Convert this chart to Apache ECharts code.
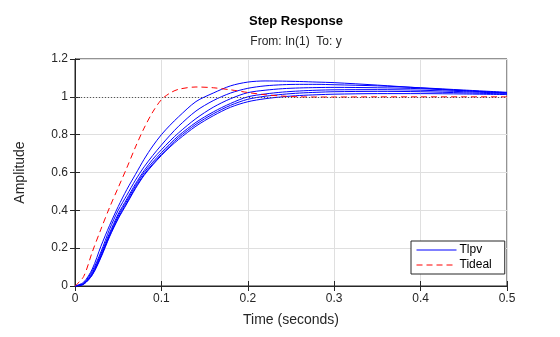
<!DOCTYPE html>
<html>
<head>
<meta charset="utf-8">
<script src="https://cdn.jsdelivr.net/npm/echarts@6/dist/echarts.min.js"></script>
<style>html,body{margin:0;padding:0;background:#fff;}#chart{width:560px;height:337px;}</style>
</head>
<body>
<div id="chart"></div>
<script>
// Time samples (seconds)
const time = [0,0.01,0.02,0.03,0.04,0.05,0.06,0.07,0.08,0.09,0.10,0.11,0.12,0.14,0.16,0.18,0.20,0.22,0.24,0.26,0.28,0.30,0.35,0.40,0.45,0.50];
// Tlpv responses (blue family)
const tlpv1 = [0,0.02,0.09,0.21,0.32,0.42,0.51,0.59,0.67,0.74,0.80,0.85,0.895,0.975,1.02,1.058,1.078,1.084,1.083,1.081,1.078,1.075,1.062,1.047,1.033,1.020];
const tlpv2 = [0,0.015,0.08,0.18,0.30,0.40,0.48,0.56,0.63,0.69,0.745,0.797,0.845,0.925,0.98,1.02,1.045,1.058,1.064,1.066,1.066,1.064,1.058,1.048,1.036,1.024];
const tlpv3 = [0,0.012,0.07,0.17,0.28,0.38,0.46,0.54,0.61,0.67,0.72,0.767,0.81,0.885,0.945,0.99,1.022,1.035,1.043,1.047,1.049,1.050,1.048,1.043,1.032,1.022];
const tlpv4 = [0,0.01,0.065,0.16,0.27,0.37,0.45,0.53,0.60,0.655,0.705,0.752,0.795,0.865,0.92,0.965,1.0,1.015,1.025,1.031,1.035,1.037,1.038,1.035,1.027,1.019];
const tlpv5 = [0,0.01,0.06,0.155,0.265,0.36,0.44,0.52,0.59,0.645,0.695,0.742,0.785,0.855,0.91,0.955,0.987,1.003,1.013,1.020,1.024,1.027,1.029,1.027,1.021,1.015];
const tlpv6 = [0,0.009,0.058,0.15,0.26,0.355,0.435,0.515,0.585,0.64,0.69,0.735,0.775,0.845,0.90,0.945,0.974,0.99,1.0,1.007,1.011,1.014,1.017,1.017,1.015,1.012];
// Tideal response (red dashed)
const tideal = [0,0.05,0.18,0.30,0.415,0.52,0.625,0.735,0.835,0.92,0.985,1.02,1.04,1.052,1.048,1.037,1.023,1.011,1.004,1.0,0.999,0.999,1.0,1.0,1.0,1.0];
const steadyState = 1;
const xTicks = [0,0.1,0.2,0.3,0.4,0.5];
const yTicks = [0,0.2,0.4,0.6,0.8,1,1.2];

const FONT = '"Liberation Sans", Arial, Helvetica, sans-serif';
const AX = '#262626';
const pairs = v => time.map((t,i)=>[t, v[i]]);

const blueSets = [tlpv1,tlpv2,tlpv3,tlpv4,tlpv5,tlpv6];
const series = blueSets.map(v => ({
  name:'Tlpv', type:'line', data:pairs(v), symbol:'none', smooth:0.3,
  lineStyle:{color:'#0000ff', width:1}, itemStyle:{color:'#0000ff'}, z:3
}));
series.push({
  name:'Tideal', type:'line', data:pairs(tideal), symbol:'none', smooth:0.3,
  lineStyle:{color:'#ff0000', width:1, type:[6,4]}, itemStyle:{color:'#ff0000'}, z:4,
  markLine:{silent:true, symbol:'none', label:{show:false},
    lineStyle:{color:'#555555', type:[1,2], width:1},
    data:[{yAxis:steadyState}]}
});

const chart = echarts.init(document.getElementById('chart'), null, {renderer:'canvas'});
chart.setOption({
  animation:false,
  backgroundColor:'#ffffff',
  title:[
    {text:'Step Response', left:291, top:10, textAlign:'center',
     textStyle:{fontFamily:FONT, fontSize:13, fontWeight:'bold', color:'#000'}},
    {text:'From: In(1)  To: y', left:291, top:31, textAlign:'center',
     textStyle:{fontFamily:FONT, fontSize:12, fontWeight:'normal', color:'#262626'}}
  ],
  grid:{left:75, right:53, top:59, bottom:51, show:true, borderColor:AX, borderWidth:1, backgroundColor:'#fff'},
  legend:{
    data:['Tlpv','Tideal'], orient:'vertical', left:411, top:241,
    backgroundColor:'#fff', borderColor:AX, borderWidth:1, borderRadius:0,
    padding:[3,13,3,5], itemGap:3, itemWidth:40, itemHeight:10,
    itemStyle:{color:'rgba(0,0,0,0)', borderWidth:0, opacity:0},
    lineStyle:{width:1},
    textStyle:{fontFamily:FONT, fontSize:12, color:'#000', padding:[0,0,0,-2]}
  },
  xAxis:[{
    type:'value', min:0, max:0.5, interval:0.1,
    name:'Time (seconds)', nameLocation:'middle', nameGap:27,
    nameTextStyle:{fontFamily:FONT, fontSize:14, color:AX},
    axisLine:{show:true, lineStyle:{color:AX}},
    axisTick:{show:true, inside:true, length:5, lineStyle:{color:AX}},
    axisLabel:{fontFamily:FONT, fontSize:12, color:AX, margin:7,
      formatter: v => xTicks.includes(+v.toFixed(2)) ? String(+v.toFixed(2)) : ''},
    splitLine:{show:true, lineStyle:{color:'#dfdfdf', width:1}}
  },{
    type:'value', min:0, max:0.5, interval:0.1, position:'top',
    axisLine:{show:true, lineStyle:{color:AX}},
    axisTick:{show:true, inside:true, length:5, lineStyle:{color:AX}},
    axisLabel:{show:false}, splitLine:{show:false}
  }],
  yAxis:[{
    type:'value', min:0, max:1.2, interval:0.2,
    name:'Amplitude', nameLocation:'middle', nameGap:48,
    nameTextStyle:{fontFamily:FONT, fontSize:14, color:AX},
    axisLine:{show:true, lineStyle:{color:AX}},
    axisTick:{show:true, inside:true, length:5, lineStyle:{color:AX}},
    axisLabel:{fontFamily:FONT, fontSize:12, color:AX, margin:7,
      formatter: v => yTicks.includes(+v.toFixed(2)) ? String(+v.toFixed(2)) : ''},
    splitLine:{show:true, lineStyle:{color:'#dfdfdf', width:1}}
  },{
    type:'value', min:0, max:1.2, interval:0.2, position:'right',
    axisLine:{show:true, lineStyle:{color:AX}},
    axisTick:{show:true, inside:true, length:5, lineStyle:{color:AX}},
    axisLabel:{show:false}, splitLine:{show:false}
  }],
  series: series
});
</script>
</body>
</html>
